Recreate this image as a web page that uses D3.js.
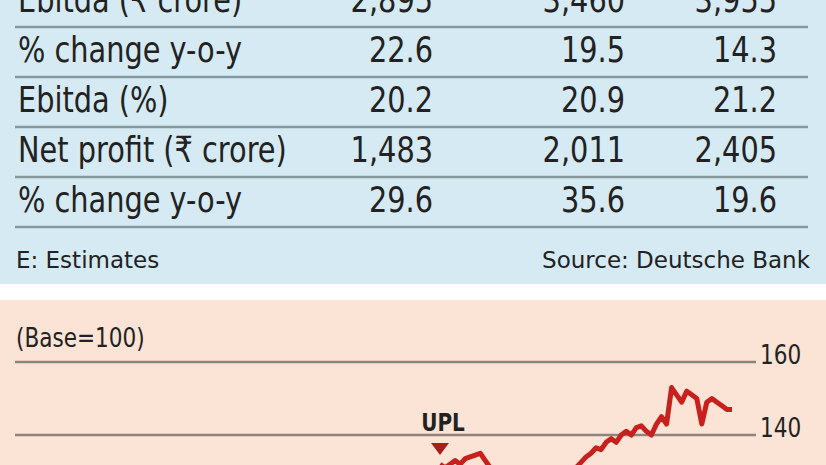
<!DOCTYPE html>
<html><head><meta charset="utf-8">
<script src="https://cdn.jsdelivr.net/npm/d3@7"></script>
<style>body{margin:0;overflow:hidden}</style>
</head><body><div id="chart"></div>
<script>
const rowLabels = ["Ebitda (₹ crore)", "% change y-o-y", "Ebitda (%)", "Net profit (₹ crore)", "% change y-o-y"];
const col1 = ["2,895", "22.6", "20.2", "1,483", "29.6"];
const col2 = ["3,460", "19.5", "20.9", "2,011", "35.6"];
const col3 = ["3,955", "14.3", "21.2", "2,405", "19.6"];
const yTicks = [120, 140, 160];
const upl = [132,131,132,133,132,133.5,134,134.5,135,133,131,129,128,127,128,129,128,127,126,127,128,127,128,129,130,129,130,
  131,132.5,134,135,136.5,136,138,139,138,140,141,140,142,142.5,141,140,143,145,143,153,151,149,152,151,150,143,149,150,149,148,147,147];

const W = 826, H = 465;
const svg = d3.select("#chart").append("svg").attr("width", W).attr("height", H);
const font = "'DejaVu Sans',sans-serif";
const sx = 0.8; // horizontal squeeze to mimic a condensed face
// place text at (x,y) squeezed horizontally
const cond = (sel, x, y) => sel.attr("transform", (d, i) => `translate(${x(d, i)},${y(d, i)}) scale(${sx},1)`);

svg.append("rect").attr("width", W).attr("height", 284).attr("fill", "#d5eaf3");
svg.append("rect").attr("y", 300).attr("width", W).attr("height", H - 300).attr("fill", "#fbe4d5");

const rowY = d3.scaleLinear().domain([0, 1]).range([-1, 49]);
svg.selectAll("line.rule").data([0, 1, 2, 3, 4]).join("line")
  .attr("x1", 15).attr("x2", 808)
  .attr("y1", d => rowY(d) + 28).attr("y2", d => rowY(d) + 28)
  .attr("stroke", "#87979d").attr("stroke-width", 2.5);

const g = svg.append("g").attr("font-family", font).attr("font-size", 36).attr("fill", "#222");
cond(g.selectAll("text.lab").data(rowLabels).join("text").text(d => d), () => 18, (d, i) => rowY(i) + 13);
[{x: 433, v: col1}, {x: 625, v: col2}, {x: 777, v: col3}].forEach(c => {
  cond(g.selectAll(null).data(c.v).join("text").attr("text-anchor", "end").text(d => d),
    () => c.x, (d, i) => rowY(i) + 13);
});
const foot = svg.append("g").attr("font-family", font).attr("font-size", 23).attr("fill", "#222");
foot.append("text").attr("x", 16).attr("y", 268).text("E: Estimates");
foot.append("text").attr("x", 810).attr("y", 268).attr("text-anchor", "end").text("Source: Deutsche Bank");

const y = d3.scaleLinear().domain([140, 160]).range([435, 362]);
const x = d3.scaleLinear().domain([0, upl.length - 1]).range([440, 732]);
svg.append("text").attr("transform", `translate(16,347) scale(${sx},1)`).attr("font-family", font)
  .attr("font-size", 27).attr("fill", "#222").text("(Base=100)");
svg.selectAll("line.grid").data(yTicks).join("line")
  .attr("x1", 15).attr("x2", 756).attr("y1", d => y(d)).attr("y2", d => y(d))
  .attr("stroke", "#8a8580").attr("stroke-width", 2.5);
cond(svg.selectAll("text.tick").data(yTicks).join("text").attr("font-family", font).attr("font-size", 27)
  .attr("fill", "#222").text(d => d), () => 760, d => y(d) + 2);
svg.append("path").datum(upl)
  .attr("d", d3.line().x((d, i) => x(i)).y(d => y(d)))
  .attr("fill", "none").attr("stroke", "#c8201c").attr("stroke-width", 5).attr("stroke-linejoin", "round");
svg.append("text").attr("transform", `translate(443,431) scale(${sx},1)`).attr("text-anchor", "middle")
  .attr("font-family", font).attr("font-weight", "bold").attr("font-size", 25).attr("fill", "#222").text("UPL");
svg.append("path").attr("d", `M${x(0) - 9},443 L${x(0) + 9},443 L${x(0)},455 Z`).attr("fill", "#a5201c");
</script></body></html>
